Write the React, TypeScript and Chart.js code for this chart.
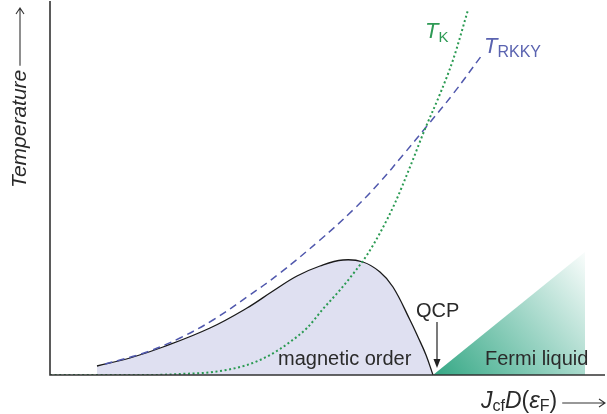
import React, { useEffect, useRef } from "react";
import { Chart, registerables } from "chart.js";
Chart.register(...registerables);

// Coupling axis (arbitrary units, 0..555) and temperature axis (arbitrary units, 0..375)
const magneticX = [47, 80, 113, 160, 197, 223, 247, 270, 293, 313, 330, 343, 360, 368, 376, 383];
const magneticY = [9, 17, 28, 47, 67, 84, 99, 109, 115, 113, 103, 88, 55, 38, 20, 0];

const rkkyX = [55, 70, 97, 130, 163, 197, 230, 270, 303, 330, 353, 377, 403, 432];
const rkkyY = [11, 15, 23, 37, 55, 78, 102, 135, 165, 193, 220, 249, 281, 320];

const kondoX = [0, 100, 130, 163, 197, 220, 240, 257, 273, 290, 303, 317, 330, 345, 360, 375, 390, 403, 418];
const kondoY = [0, 0, 1, 3, 10, 20, 33, 47, 66, 85, 101, 120, 142, 172, 208, 246, 281, 315, 365];

const fermiX = [383, 535, 535];
const fermiY = [0, 123, 0];

const labelMagnetic = "magnetic order";
const labelFermi = "Fermi liquid";
const labelQCP = "QCP";
const yTitle = "Temperature";

const FONT = "'Liberation Sans', Arial, Helvetica, sans-serif";
const TXT = "#2a2a2a";

type Part = { t: string; size: number; italic?: boolean; dy?: number; color?: string };

function drawRich(ctx: CanvasRenderingContext2D, x: number, y: number, parts: Part[]) {
  let cx = x;
  for (const p of parts) {
    ctx.font = `${p.italic ? "italic " : ""}${p.size}px ${FONT}`;
    if (p.color) ctx.fillStyle = p.color;
    ctx.fillText(p.t, cx, y + (p.dy || 0));
    cx += ctx.measureText(p.t).width;
  }
  return cx;
}

const overlay = {
  id: "overlay",
  afterDraw(chart: any) {
    const ctx: CanvasRenderingContext2D = chart.ctx;
    const xs = chart.scales.x;
    const ys = chart.scales.y;
    const X = (v: number) => xs.getPixelForValue(v);
    const Y = (v: number) => ys.getPixelForValue(v);
    const { left, right, bottom, top } = chart.chartArea;
    ctx.save();
    // axes
    ctx.strokeStyle = "#333";
    ctx.lineWidth = 1.6;
    ctx.setLineDash([]);
    ctx.beginPath();
    ctx.moveTo(left, top + 1);
    ctx.lineTo(left, bottom);
    ctx.lineTo(right, bottom);
    ctx.stroke();

    ctx.fillStyle = TXT;
    ctx.textBaseline = "alphabetic";
    ctx.textAlign = "left";
    ctx.font = `20px ${FONT}`;
    ctx.fillText(labelMagnetic, X(228), Y(10));
    ctx.fillText(labelFermi, X(435), Y(10));
    ctx.fillText(labelQCP, X(366), Y(58));

    // QCP arrow
    const ax = X(387);
    ctx.strokeStyle = "#222";
    ctx.lineWidth = 1.2;
    ctx.beginPath();
    ctx.moveTo(ax, Y(53));
    ctx.lineTo(ax, Y(12));
    ctx.stroke();
    ctx.fillStyle = "#222";
    ctx.beginPath();
    ctx.moveTo(ax - 3.5, Y(16));
    ctx.lineTo(ax + 3.5, Y(16));
    ctx.lineTo(ax, Y(7));
    ctx.closePath();
    ctx.fill();

    // curve labels
    drawRich(ctx, X(375), Y(337), [
      { t: "T", size: 22, italic: true, color: "#2e9a55" },
      { t: "K", size: 15, dy: 4, color: "#2e9a55" },
    ]);
    drawRich(ctx, X(434), Y(322), [
      { t: "T", size: 22, italic: true, color: "#5a63b0" },
      { t: "RKKY", size: 16, dy: 4, color: "#5a63b0" },
    ]);

    // x title
    ctx.fillStyle = TXT;
    const endX = drawRich(ctx, 481, 408, [
      { t: "J", size: 23, italic: true },
      { t: "cf", size: 16, dy: 3 },
      { t: "D", size: 23, italic: true },
      { t: "(", size: 23 },
      { t: "ε", size: 24, italic: true },
      { t: "F", size: 16, dy: 3 },
      { t: ")", size: 23 },
    ]);
    ctx.strokeStyle = "#333";
    ctx.lineWidth = 1.1;
    const ay = 403;
    ctx.beginPath();
    ctx.moveTo(endX + 5, ay);
    ctx.lineTo(605, ay);
    ctx.moveTo(599, ay - 4);
    ctx.lineTo(605, ay);
    ctx.lineTo(599, ay + 4);
    ctx.stroke();

    // y title
    ctx.save();
    ctx.translate(26, 188);
    ctx.rotate(-Math.PI / 2);
    ctx.font = `italic 21px ${FONT}`;
    ctx.fillStyle = TXT;
    ctx.fillText(yTitle, 0, 0);
    const w = ctx.measureText(yTitle).width;
    ctx.restore();
    const yx = 20;
    const yTop = 188 - w - 4;
    ctx.beginPath();
    ctx.moveTo(yx, yTop);
    ctx.lineTo(yx, 8);
    ctx.moveTo(yx - 4, 14);
    ctx.lineTo(yx, 8);
    ctx.lineTo(yx + 4, 14);
    ctx.stroke();
    ctx.restore();
  },
};

const pts = (xs: number[], ys: number[]) => xs.map((x, i) => ({ x, y: ys[i] }));

export default function App() {
  const ref = useRef<HTMLCanvasElement | null>(null);
  useEffect(() => {
    document.body.style.margin = "0";
    const canvas = ref.current!;
    const chart = new Chart(canvas, {
      type: "line",
      data: {
        datasets: [
          {
            label: "TK",
            data: pts(kondoX, kondoY),
            borderColor: "#2a9a52",
            borderWidth: 2,
            borderDash: [2, 2.6],
            pointRadius: 0,
            fill: false,
            cubicInterpolationMode: "monotone",
            order: 1,
          },
          {
            label: "TRKKY",
            data: pts(rkkyX, rkkyY),
            borderColor: "#5058ad",
            borderWidth: 1.5,
            borderDash: [7.5, 5],
            pointRadius: 0,
            fill: false,
            tension: 0.4,
            order: 2,
          },
          {
            label: "magnetic",
            data: pts(magneticX, magneticY),
            borderColor: "#1a1a1a",
            borderWidth: 1.3,
            backgroundColor: "#dfe0f1",
            pointRadius: 0,
            fill: "origin",
            tension: 0.4,
            order: 3,
          },
          {
            label: "fermi",
            data: pts(fermiX, fermiY),
            borderWidth: 0,
            borderColor: "rgba(0,0,0,0)",
            pointRadius: 0,
            fill: "origin",
            tension: 0,
            order: 4,
            backgroundColor: (c: any) => {
              const ch = c.chart;
              const xs = ch.scales.x;
              const ys = ch.scales.y;
              if (!ch.chartArea || !xs || !ys) return "#4db598";
              const x0 = xs.getPixelForValue(390);
              const y0 = ys.getPixelForValue(0);
              const x1 = xs.getPixelForValue(540);
              const y1 = ys.getPixelForValue(125);
              if (![x0, y0, x1, y1].every((v) => Number.isFinite(v))) return "#4db598";
              const g = ch.ctx.createLinearGradient(x0, y0, x1, y1);
              g.addColorStop(0, "rgba(58,170,136,1)");
              g.addColorStop(0.5, "rgba(155,212,196,1)");
              g.addColorStop(1, "rgba(255,255,255,1)");
              return g;
            },
          },
        ],
      },
      options: {
        animation: false,
        responsive: false,
        layout: { padding: { left: 50, right: 2, top: 0, bottom: 39 } },
        plugins: { legend: { display: false }, tooltip: { enabled: false } },
        scales: {
          x: { type: "linear", min: 0, max: 555, display: false },
          y: { type: "linear", min: 0, max: 375, display: false },
        },
      },
      plugins: [overlay],
    } as any);
    return () => chart.destroy();
  }, []);
  return <canvas ref={ref} width={607} height={414} style={{ display: "block" }} />;
}
